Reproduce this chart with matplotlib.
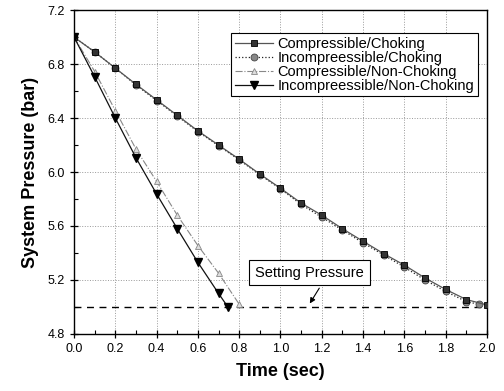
import matplotlib
matplotlib.use("Agg")
import matplotlib.pyplot as plt
from matplotlib.ticker import MultipleLocator, FormatStrFormatter

plt.rcParams['font.family'] = ['Liberation Sans', 'DejaVu Sans']

# Choking cases: pressure sampled every 0.1 s
t_choke = [0.0, 0.1, 0.2, 0.3, 0.4, 0.5, 0.6, 0.7, 0.8, 0.9, 1.0,
           1.1, 1.2, 1.3, 1.4, 1.5, 1.6, 1.7, 1.8, 1.9, 2.0]
p_comp_choke = [7.00, 6.89, 6.77, 6.65, 6.535, 6.42, 6.305, 6.20, 6.095, 5.985, 5.88,
                5.77, 5.68, 5.58, 5.487, 5.395, 5.31, 5.215, 5.13, 5.055, 5.015]
t_incomp_choke = [0.0, 0.1, 0.2, 0.3, 0.4, 0.5, 0.6, 0.7, 0.8, 0.9, 1.0,
                  1.1, 1.2, 1.3, 1.4, 1.5, 1.6, 1.7, 1.8, 1.9, 1.96]
p_incomp_choke = [7.00, 6.89, 6.77, 6.645, 6.53, 6.415, 6.30, 6.195, 6.09, 5.98, 5.875,
                  5.76, 5.665, 5.57, 5.475, 5.385, 5.295, 5.20, 5.115, 5.04, 5.02]

# Non-choking cases
t_comp_nc = [0.0, 0.1, 0.2, 0.3, 0.4, 0.5, 0.6, 0.7, 0.8]
p_comp_nc = [7.00, 6.745, 6.455, 6.17, 5.93, 5.68, 5.455, 5.25, 5.02]
t_incomp_nc = [0.0, 0.1, 0.2, 0.3, 0.4, 0.5, 0.6, 0.7, 0.745]
p_incomp_nc = [7.00, 6.705, 6.40, 6.105, 5.837, 5.58, 5.33, 5.10, 5.00]

setting_pressure = 5.0
labels = ["Compressible/Choking", "Incompreessible/Choking",
          "Compressible/Non-Choking", "Incompreessible/Non-Choking"]

fig = plt.figure(figsize=(5.04, 3.91), dpi=100)
ax = fig.add_axes([0.147, 0.146, 0.819, 0.828])

ax.plot(t_choke, p_comp_choke, '-', color='#555555', lw=0.9, marker='s', ms=5,
        mfc='#333333', mec='black', mew=0.6, label=labels[0], zorder=4)
ax.plot(t_incomp_choke, p_incomp_choke, ':', color='#222222', lw=0.9, marker='o', ms=5,
        mfc='#888888', mec='#444444', mew=0.6, label=labels[1], zorder=3)
ax.plot(t_comp_nc, p_comp_nc, '-.', color='#888888', lw=0.8, marker='^', ms=5,
        mfc='#dddddd', mec='#888888', mew=0.6, label=labels[2], zorder=3)
ax.plot(t_incomp_nc, p_incomp_nc, '-', color='#111111', lw=0.9, marker='v', ms=6,
        mfc='black', mec='black', label=labels[3], zorder=4)

ax.axhline(setting_pressure, color='black', ls=(0, (5, 4)), lw=1.0, zorder=2)

ax.annotate('Setting Pressure', xy=(1.135, 5.008), xytext=(1.14, 5.255),
            ha='center', va='center', fontsize=10.5,
            bbox=dict(boxstyle='square,pad=0.4', fc='white', ec='black', lw=0.8),
            arrowprops=dict(arrowstyle='-|>', color='black', lw=0.8,
                            relpos=(0.64, 0.0), mutation_scale=8),
            zorder=5)

ax.set_xlim(0.0, 2.0)
ax.set_ylim(4.8, 7.2)
ax.xaxis.set_major_locator(MultipleLocator(0.2))
ax.xaxis.set_minor_locator(MultipleLocator(0.1))
ax.yaxis.set_major_locator(MultipleLocator(0.4))
ax.yaxis.set_minor_locator(MultipleLocator(0.2))
ax.xaxis.set_major_formatter(FormatStrFormatter('%.1f'))
ax.yaxis.set_major_formatter(FormatStrFormatter('%.1f'))
ax.tick_params(which='major', direction='inout', length=6, width=0.9, labelsize=9)
ax.tick_params(which='minor', direction='in', length=3, width=0.8)
ax.grid(True, which='major', ls=':', color='#999999', lw=0.7)

for s in ax.spines.values():
    s.set_linewidth(1.0)

ax.set_xlabel('Time (sec)', fontsize=13, fontweight='bold', labelpad=6)
ax.set_ylabel('System Pressure (bar)', fontsize=13, fontweight='bold', labelpad=6)

leg = ax.legend(loc='upper right', bbox_to_anchor=(0.978, 0.929), borderaxespad=0,
                fontsize=10.5, fancybox=False, framealpha=1, edgecolor='black',
                labelspacing=0.0, handlelength=2.6, handletextpad=0.3,
                borderpad=0.25)
leg.get_frame().set_linewidth(0.8)

fig.savefig('out.png', dpi=100)
